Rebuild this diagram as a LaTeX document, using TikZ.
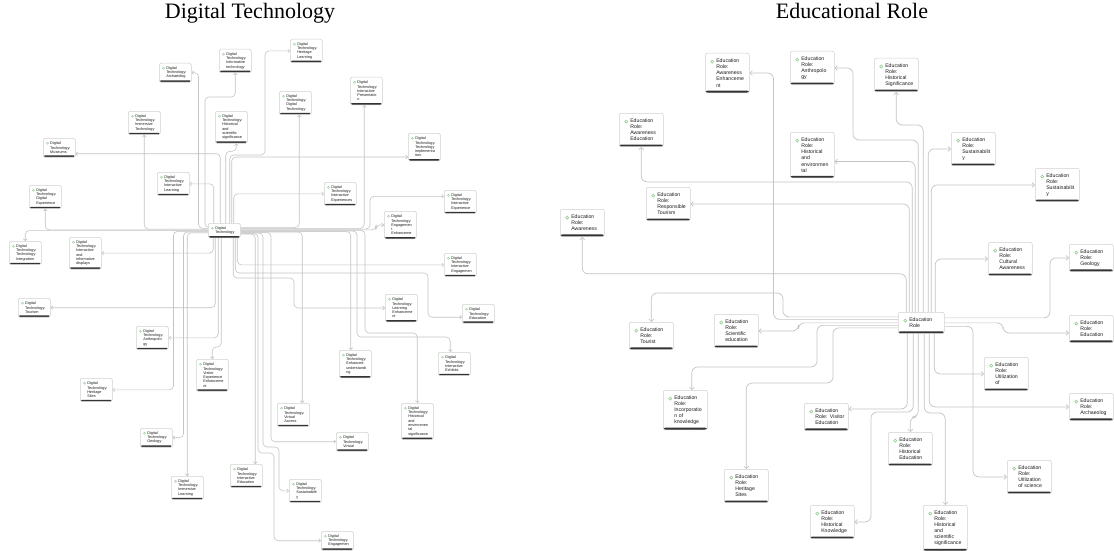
\documentclass[tikz,border=0pt]{standalone}
\usepackage{fontspec}
\setmainfont{Liberation Serif}
\newfontfamily\boxfont{Liberation Sans}
\usetikzlibrary{arrows.meta,backgrounds}
\definecolor{boxline}{HTML}{D0D0D0}
\definecolor{barcol}{HTML}{333333}
\definecolor{iconcol}{HTML}{9BD39B}
\definecolor{conncol}{HTML}{C4C4C4}
\definecolor{txtcol}{HTML}{1E1E1E}
\tikzset{
  boxbase/.style={draw=boxline, fill=white, line width=0.5pt, anchor=north west,
    align=left, text=txtcol, inner ysep=0pt},
  lbox/.style={boxbase, rounded corners=1.5pt, text width=29pt, inner xsep=1.5pt,
    font=\boxfont\fontsize{3.8}{4.3}\selectfont,
    execute at begin node={\leftskip=5.5pt\relax},
    minimum height={4.3*#1+6},
    path picture={
      \fill[barcol] (path picture bounding box.south west) rectangle ([yshift=1.7pt]path picture bounding box.south east);
      \draw[iconcol, line width=0.45pt] ([xshift=4.3pt,yshift=-5pt]path picture bounding box.north west) circle (1.1pt);
    }},
  rbox/.style={boxbase, rounded corners=2pt, text width=40pt, inner xsep=2pt,
    font=\boxfont\fontsize{5.2}{6.1}\selectfont,
    execute at begin node={\leftskip=9pt\relax},
    minimum height={6.1*#1+9},
    path picture={
      \fill[barcol] (path picture bounding box.south west) rectangle ([yshift=2.1pt]path picture bounding box.south east);
      \draw[iconcol, line width=0.6pt] ([xshift=7pt,yshift=-8.4pt]path picture bounding box.north west) circle (1.5pt);
    }},
  lconn/.style={draw=conncol, line width=0.6pt, rounded corners=4pt,
    -{Straight Barb[length=1.8pt,width=3.6pt]}},
  rconn/.style={draw=conncol, line width=0.7pt, rounded corners=6pt,
    -{Straight Barb[length=2.4pt,width=4.8pt]}},
  ttl/.style={font=\fontsize{22}{26}\selectfont, anchor=base, text=black}
}
\begin{document}
\begin{tikzpicture}[x=1pt,y=-1pt]
\useasboundingbox (0,0) rectangle (1114,551);

% titles
\node[ttl] (titleL) at (250,19) {Digital Technology};
\node[ttl] (titleR) at (852,19) {Educational Role};

% ---------------- left diagram nodes ----------------
\node[lbox=3] (dtArch) at (159,63) {Digital\\Technology:\\Archaeolog};
\node[lbox=4] (dtInfo) at (219,49) {Digital\\Technology:\\Informative\\technology};
\node[lbox=4] (dtImmT) at (128,111) {Digital\\Technology:\\Immersive\\Technology};
\node[lbox=6] (dtHSS) at (215,111) {Digital\\Technology:\\Historical\\and\\scientific\\significance};
\node[lbox=3] (dtMus) at (43,138) {Digital\\Technology:\\Museums};
\node[lbox=4] (dtIntL) at (157,172) {Digital\\Technology:\\Interactive\\Learning};
\node[lbox=4] (dtDigE) at (29,185) {Digital\\Technology:\\Digital\\Experience};
\node[lbox=4] (dtHerL) at (290,39) {Digital\\Technology:\\Heritage\\Learning};
\node[lbox=4] (dtDT) at (279,91) {Digital\\Technology:\\Digital\\Technology};
\node[lbox=5] (dtIntP) at (350,77) {Digital\\Technology:\\Interactive\\Presentatio\\n};
\node[lbox=5] (dtTImp) at (408,133) {Digital\\Technology:\\Technology\\implementa\\tion};
\node[lbox=4] (dtIntXs) at (324,182) {Digital\\Technology:\\Interactive\\Experiences};
\node[lbox=4] (dtIntX) at (444,190) {Digital\\Technology:\\Interactive\\Experience};
\node[lbox=2] (dtc) at (208,223) {Digital\\Technology};
\node[lbox=4] (dtTInt) at (9,241) {Digital\\Technology:\\Technology\\Integration};
\node[lbox=6] (dtIID) at (69,237) {Digital\\Technology:\\Interactive\\and\\informative\\displays};
\node[lbox=3] (dtTour) at (18,298) {Digital\\Technology:\\Tourism};
\node[lbox=4] (dtAnth) at (136,326) {Digital\\Technology:\\Anthropolo\\gy};
\node[lbox=6] (dtVEE) at (196,359) {Digital\\Technology:\\Visitor\\Experience\\Enhanceme\\nt};
\node[lbox=5] (dtEngE) at (384,211) {Digital\\Technology:\\Engagemen\\t\\Enhanceme};
\node[lbox=4] (dtIntEng) at (444,253) {Digital\\Technology:\\Interactive\\Engagemen};
\node[lbox=5] (dtLE) at (385,294) {Digital\\Technology:\\Learning\\Enhanceme\\nt};
\node[lbox=3] (dtEdu) at (462,304) {Digital\\Technology:\\Education};
\node[lbox=5] (dtEU) at (339,350) {Digital\\Technology:\\Enhanced\\understandi\\ng};
\node[lbox=4] (dtIExh) at (438,352) {Digital\\Technology:\\Interactive\\Exhibits};
\node[lbox=4] (dtHerS) at (80,378) {Digital\\Technology:\\Heritage\\Sites};
\node[lbox=3] (dtGeo) at (140,428) {Digital\\Technology:\\Geology};
\node[lbox=4] (dtImmL) at (171,476) {Digital\\Technology:\\Immersive\\Learning};
\node[lbox=4] (dtIEdu) at (230,464) {Digital\\Technology:\\Interactive\\Education};
\node[lbox=4] (dtVA) at (277,403) {Digital\\Technology:\\Virtual\\Access};
\node[lbox=3] (dtVir) at (336,432) {Digital\\Technology:\\Virtual};
\node[lbox=7] (dtHES) at (401,403) {Digital\\Technology:\\Historical\\and\\environmen\\tal\\significance};
\node[lbox=4] (dtSus) at (289,479) {Digital\\Technology:\\Sustainabilit\\y};
\node[lbox=3] (dtEng) at (321,531) {Digital\\Technology:\\Engagemen};

% ---------------- right diagram nodes ----------------
\node[rbox=5] (erAE) at (705,53) {Education\\Role:\\Awareness\\Enhanceme\\nt};
\node[rbox=4] (erAnth) at (790,51) {Education\\Role:\\Anthropolo\\gy};
\node[rbox=4] (erHSig) at (874,58) {Education\\Role:\\Historical\\Significance};
\node[rbox=4] (erAEd) at (619,113) {Education\\Role:\\Awareness\\Education};
\node[rbox=6] (erHE) at (790,132) {Education\\Role:\\Historical\\and\\environmen\\tal};
\node[rbox=4] (erSus1) at (951,132) {Education\\Role:\\Sustainabilit\\y};
\node[rbox=4] (erSus2) at (1035,168) {Education\\Role:\\Sustainabilit\\y};
\node[rbox=4] (erRT) at (646,187) {Education\\Role:\\Responsible\\Tourism};
\node[rbox=3] (erAw) at (560,209) {Education\\Role:\\Awareness};
\node[rbox=4] (erCA) at (988,242) {Education\\Role:\\Cultural\\Awareness};
\node[rbox=3] (erGeo) at (1069,244) {Education\\Role:\\Geology};
\node[rbox=3] (erTour) at (629,322) {Education\\Role:\\Tourist};
\node[rbox=4] (erSE) at (714,314) {Education\\Role:\\Scientific\\education};
\node[rbox=2, text width=42pt] (erc) at (898,312) {Education\\Role};
\node[rbox=3] (erEdu) at (1069,315) {Education\\Role:\\Education};
\node[rbox=4] (erUO) at (984,357) {Education\\Role:\\Utilization\\of};
\node[rbox=5] (erIK) at (663,390) {Education\\Role:\\Incorporatio\\n of\\knowledge};
\node[rbox=3] (erVE) at (804,403) {Education\\Role: Visitor\\Education};
\node[rbox=4] (erHS) at (724,469) {Education\\Role:\\Heritage\\Sites};
\node[rbox=4] (erHK) at (810,505) {Education\\Role:\\Historical\\Knowledge};
\node[rbox=3] (erArch) at (1069,393) {Education\\Role:\\Archaeolog};
\node[rbox=4] (erHEd) at (888,432) {Education\\Role:\\Historical\\Education};
\node[rbox=4] (erUS) at (1007,460) {Education\\Role:\\Utilization\\of science};
\node[rbox=6] (erHSS) at (923,505) {Education\\Role:\\Historical\\and\\scientific\\significance};

\begin{pgfonlayer}{background}
\fill[white] (0,0) rectangle (1114,551);

% ---------- left connectors ----------
% west side
\draw[lconn] ([yshift=3]dtc.west) -| (205,97) -| (dtInfo.south);
\draw[lconn] ([yshift=2.25]dtc.west) -| ([xshift=7]dtArch.east) -- (dtArch.east);
\draw[lconn] ([yshift=1.5]dtc.west) -| (dtImmT.south);
\draw[lconn] ([yshift=0.75]dtc.west) -| (dtDigE.south);
\draw[lconn] (dtc.west) -| (dtTInt.north);
\draw[lconn] ([yshift=-0.75]dtc.west) -| ([xshift=61]dtHerS.east) -- (dtHerS.east);
\draw[lconn] ([yshift=-1.5]dtc.west) -| ([xshift=11]dtGeo.east) -- (dtGeo.east);
\draw[lconn] ([yshift=-2.25]dtc.west) -| (dtImmL.north);
% north side
\draw[lconn] ([xshift=-10.5]dtc.north) |- (dtIntL.east);
\draw[lconn] ([xshift=-4]dtc.north) |- ([yshift=-6]dtMus.east);
\draw[lconn] ([xshift=1.5]dtc.north) |- ([xshift=5,yshift=-8]dtHSS.south) -- ([xshift=5]dtHSS.south);
\draw[lconn] ([xshift=5.5]dtc.north) |- (265,155) |- (dtHerL.west);
\draw[lconn] ([xshift=7.5]dtc.north) |- ([yshift=-10]dtTImp.west);
\draw[lconn] ([xshift=9.5]dtc.north) |- (dtIntXs.west);
% south side
\draw[lconn] ([xshift=-11]dtc.south) |- (dtIID.east);
\draw[lconn] ([xshift=-9]dtc.south) |- (dtTour.east);
\draw[lconn] ([xshift=-6]dtc.south) |- (dtAnth.east);
\draw[lconn] ([xshift=-3]dtc.south) |- ([yshift=12]dtVEE.north) -- (dtVEE.north);
\draw[lconn] ([xshift=9]dtc.south) |- (294,278) |- (dtLE.west);
\draw[lconn] ([xshift=11]dtc.south) |- (428,273) |- ([yshift=-3.5]dtEdu.west);
\draw[lconn] ([xshift=13]dtc.south) |- (dtIntEng.west);
% east side
\draw[lconn] ([yshift=3]dtc.east) -| ([xshift=4]dtDT.south);
\draw[lconn] ([yshift=2.25]dtc.east) -| ([xshift=-2]dtIntP.south);
\draw[lconn] ([yshift=1.5]dtc.east) -| ([xshift=-74,yshift=5.5]dtIntX.west) -- ([yshift=5.5]dtIntX.west);
\draw[lconn] ([yshift=0.75]dtc.east) -| ([xshift=-8]dtEngE.west) -- (dtEngE.west);
\draw[lconn] (dtc.east) -| (365,333) -| (dtHES.north);
\draw[lconn] ([yshift=-0.5]dtc.east) -| (357,337) -| ([xshift=-4]dtIExh.north);
\draw[lconn] ([yshift=-1]dtc.east) -| ([xshift=-4.5]dtEU.north);
\draw[lconn] ([yshift=-1.5]dtc.east) -| ([xshift=9]dtVA.north);
\draw[lconn] ([yshift=-2]dtc.east) -| ([xshift=-65]dtVir.west) -- (dtVir.west);
\draw[lconn] ([yshift=-2.5]dtc.east) -| (263,447) -| ([xshift=-10]dtSus.west) -- (dtSus.west);
\draw[lconn] ([yshift=-3]dtc.east) -| (258,453) -| ([xshift=-47]dtEng.west) -- (dtEng.west);
\draw[lconn] ([yshift=-3.5]dtc.east) -| ([xshift=9]dtIEdu.north);

% ---------- right connectors ----------
% north side
\draw[rconn] ([xshift=-15]erc.north) |- ([yshift=-37]erAw.south) -- (erAw.south);
\draw[rconn] ([xshift=-12]erc.north) |- (erRT.east);
\draw[rconn] ([xshift=-9]erc.north) |- ([yshift=-35]erAEd.south) -- (erAEd.south);
\draw[rconn] ([xshift=-6]erc.north) |- ([yshift=-6.5]erHE.east);
\draw[rconn] ([xshift=-3]erc.north) |- (853,140) |- (erAnth.east);
\draw[rconn] ([xshift=2]erc.north) |- ([yshift=-33]erHSig.south) -- (erHSig.south);
\draw[rconn] ([xshift=7]erc.north) |- (erSus1.west);
\draw[rconn] ([xshift=10]erc.north) |- (erSus2.west);
\draw[rconn] ([xshift=14]erc.north) |- (erCA.west);
% east side
\draw[rconn] ([yshift=5]erc.east) -| ([xshift=-19]erGeo.west) -- (erGeo.west);
\draw[rconn] (erc.east) -| ([xshift=-66,yshift=-4]erEdu.west) -- ([yshift=-4]erEdu.west);
\draw[rconn] ([yshift=-3.5]erc.east) -| ([xshift=-34]erUS.west) -- (erUS.west);
% south side
\draw[rconn] ([xshift=-14]erc.south) |- ([yshift=8]erVE.east);
\draw[rconn] ([xshift=-8]erc.south) |- (871,412) |- (erHK.east);
\draw[rconn] ([xshift=-3]erc.south) |- ([yshift=15]erHEd.north) -- (erHEd.north);
\draw[rconn] ([xshift=3]erc.south) |- ([yshift=92]erHSS.north) -- (erHSS.north);
\draw[rconn] ([xshift=8]erc.south) |- (erArch.west);
\draw[rconn] ([xshift=13]erc.south) |- (erUO.west);
% west side
\draw[rconn] ([yshift=6]erc.west) -| (783,293) -| (erTour.north);
\draw[rconn] ([yshift=3.5]erc.west) -| ([xshift=24]erAE.east) -- (erAE.east);
\draw[rconn] (erc.west) -| ([xshift=40]erSE.east) -- (erSE.east);
\draw[rconn] ([yshift=-2.5]erc.west) -| (817,367) -| ([xshift=6.5]erIK.north);
\draw[rconn] ([yshift=-5]erc.west) -| (833,383) -| (erHS.north);
\end{pgfonlayer}
\end{tikzpicture}
\end{document}
